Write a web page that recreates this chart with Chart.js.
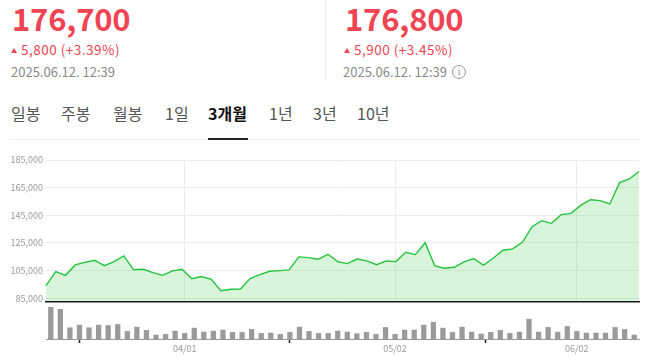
<!DOCTYPE html>
<html><head><meta charset="utf-8">
<script src="https://cdn.jsdelivr.net/npm/chart.js@4/dist/chart.umd.min.js"></script>
<style>
html,body{margin:0;padding:0;background:#fff;width:659px;height:360px;overflow:hidden;font-family:"Noto Sans CJK KR","Noto Sans",sans-serif;}
.abs{position:absolute;white-space:nowrap;}
.big{font-size:31px;font-weight:700;color:#f04452;line-height:32px;letter-spacing:-0.2px;}
.chg{font-size:13.5px;color:#f04452;line-height:16px;letter-spacing:0.5px;}
.tri{display:inline-block;width:0;height:0;border-left:3px solid transparent;border-right:3px solid transparent;border-bottom:5px solid #f04452;margin-right:4px;vertical-align:2px;}
.dt{font-size:13px;color:#8a8a8a;line-height:16px;}
.tab{font-size:16px;color:#555;line-height:20px;}
.on{font-weight:700;color:#111;}
#info{position:absolute;left:452px;top:65px;width:12px;height:12px;border:1.3px solid #999;border-radius:50%;font-size:10px;line-height:12px;text-align:center;color:#999;font-family:"DejaVu Serif",serif;}
</style></head>
<body>
<div class="abs big" style="left:12px;top:2px">176,700</div>
<div class="abs chg" style="left:11px;top:41px"><span class="tri"></span>5,800 (+3.39%)</div>
<div class="abs dt" style="left:11px;top:64px">2025.06.12. 12:39</div>
<div class="abs" style="left:325px;top:0;width:1px;height:80px;background:#eee"></div>
<div class="abs big" style="left:345px;top:2px">176,800</div>
<div class="abs chg" style="left:344px;top:41px"><span class="tri"></span>5,900 (+3.45%)</div>
<div class="abs dt" style="left:343px;top:64px">2025.06.12. 12:39</div>
<div id="info">i</div>
<div class="abs tab" style="left:11px;top:103px">일봉</div>
<div class="abs tab" style="left:61px;top:103px">주봉</div>
<div class="abs tab" style="left:113px;top:103px">월봉</div>
<div class="abs tab" style="left:165px;top:103px">1일</div>
<div class="abs tab on" style="left:208px;top:103px">3개월</div>
<div class="abs tab" style="left:269px;top:103px">1년</div>
<div class="abs tab" style="left:313px;top:103px">3년</div>
<div class="abs tab" style="left:357px;top:103px">10년</div>
<div class="abs" style="left:10px;top:139px;width:630px;height:1px;background:#f0f0f0"></div>
<div class="abs" style="left:208px;top:138px;width:40px;height:2px;background:#222"></div>
<div class="abs" style="left:0;top:300px;width:659px;height:60px"><canvas id="vol"></canvas></div>
<div class="abs" style="left:0;top:150px;width:659px;height:156px"><canvas id="price"></canvas></div>
<script>
const dates = ['03/12','03/13','03/14','03/17','03/18','03/19','03/20','03/21','03/24','03/25','03/26','03/27','03/28','03/31',
'04/01','04/02','04/03','04/04','04/07','04/08','04/09','04/10','04/11','04/14','04/15','04/16','04/17','04/18','04/21','04/22','04/23','04/24','04/25','04/28','04/29','04/30',
'05/02','05/07','05/08','05/09','05/12','05/13','05/14','05/15','05/16','05/19','05/20','05/21','05/22','05/23','05/26','05/27','05/28','05/29','05/30',
'06/02','06/04','06/05','06/09','06/10','06/11','06/12'];
const prices = [94200,104300,101600,109100,111000,112500,108600,111500,115600,105700,106000,103600,101600,104800,
106000,99200,100700,98700,90500,91500,91700,99200,102100,104500,105000,105500,114900,114400,113200,116800,111500,110100,113400,112000,109300,112000,
111500,118300,116600,125200,108400,106700,107400,111300,113700,108900,113900,119700,120700,125500,136800,141100,139200,145500,146400,
152200,156300,155600,153200,168600,171300,176700];
const volumes = [970,910,350,430,350,430,420,450,240,370,270,130,150,250,
180,340,220,250,280,210,210,300,180,190,150,210,370,240,180,180,250,220,170,210,150,360,
150,280,280,430,520,340,210,370,220,160,210,270,180,220,610,220,360,220,390,
240,190,190,190,360,300,130];
const yTicks = [85000,105000,125000,145000,165000,185000];
const xTickLabels = ['04/01','05/02','06/02'];

Chart.defaults.font.family = '"Noto Sans CJK KR","Noto Sans",sans-serif';
Chart.defaults.animation = false;
const keepX = (axis) => { axis.ticks = axis.ticks.filter(t => xTickLabels.includes(dates[t.value])); };

new Chart(document.getElementById('price'), {
  type: 'line',
  data: { labels: dates, datasets: [{
    data: prices, xAxisID: 'x', yAxisID: 'y',
    borderColor: '#22c43a', borderWidth: 1.4, pointRadius: 0, tension: 0,
    fill: 'start', backgroundColor: 'rgba(40,200,60,0.18)'
  }]},
  options: {
    responsive: true, maintainAspectRatio: false,
    layout: { padding: { top: 10, right: 20, bottom: 4, left: 0 } },
    plugins: { legend: { display: false }, tooltip: { enabled: false } },
    scales: {
      x: { type: 'category', display: false, offset: false },
      xg: { type: 'category', position: 'bottom', offset: true,
        afterBuildTicks: keepX,
        afterFit: (s) => { s.height = 0; s.paddingLeft = 0; s.paddingRight = 0; },
        ticks: { display: false },
        grid: { color: '#ececec', lineWidth: 1, drawTicks: false, offset: false },
        border: { display: true, color: '#1a1a1a', width: 1.5, z: 2 } },
      y: { min: 82300, max: 185000,
        afterBuildTicks: (axis) => { axis.ticks = yTicks.map(v => ({ value: v })); },
        afterFit: (s) => { s.width = 46; s.paddingTop = 0; s.paddingBottom = 0; },
        ticks: { padding: 3, color: '#999', font: { size: 9 },
          callback: (v) => v.toLocaleString('en-US') },
        grid: { color: '#ececec', lineWidth: 1, drawTicks: false },
        border: { display: false } }
    }
  }
});

new Chart(document.getElementById('vol'), {
  type: 'bar',
  data: { labels: dates, datasets: [{
    data: volumes, backgroundColor: '#9a9a9a', barPercentage: 0.55, categoryPercentage: 1
  }]},
  options: {
    responsive: true, maintainAspectRatio: false,
    layout: { padding: { top: 6, right: 20, bottom: 0, left: 46 } },
    plugins: { legend: { display: false }, tooltip: { enabled: false } },
    scales: {
      x: { offset: true,
        afterBuildTicks: keepX,
        afterFit: (s) => { s.height = 21; s.paddingLeft = 0; s.paddingRight = 0; },
        ticks: { color: '#999', font: { size: 9 }, padding: 0, maxRotation: 0, autoSkip: false },
        grid: { drawOnChartArea: false, drawTicks: true, tickLength: 4, tickColor: '#222', tickWidth: 1.5 },
        border: { display: true, color: '#999', width: 1 } },
      y: { display: false, min: 0, max: 1000 }
    }
  }
});
</script>
</body></html>
